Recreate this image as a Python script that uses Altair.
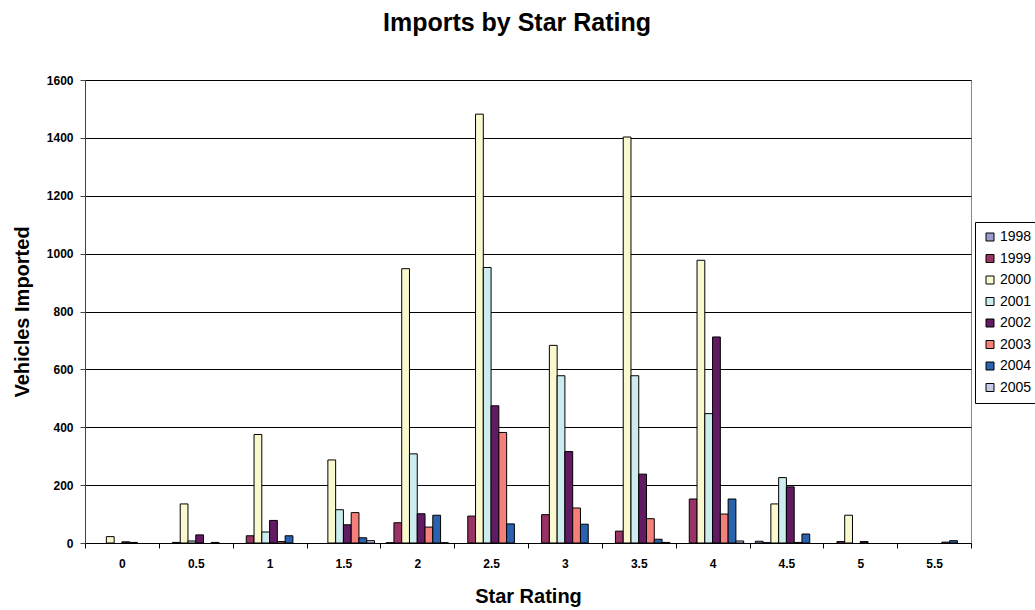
import altair as alt
import pandas as pd

ratings = ["0", "0.5", "1", "1.5", "2", "2.5", "3", "3.5", "4", "4.5", "5", "5.5"]
years = ["1998", "1999", "2000", "2001", "2002", "2003", "2004", "2005"]

v1998 = [0, 0, 0, 0, 1, 0, 0, 0, 0, 6, 0, 0]
v1999 = [0, 2, 25, 0, 70, 93, 98, 41, 152, 1, 5, 0]
v2000 = [22, 135, 375, 287, 948, 1482, 683, 1403, 977, 135, 96, 0]
v2001 = [0, 7, 38, 115, 308, 952, 578, 578, 447, 226, 0, 0]
v2002 = [4, 28, 78, 63, 101, 474, 316, 238, 712, 194, 5, 0]
v2003 = [2, 0, 5, 105, 55, 382, 121, 84, 100, 2, 0, 3]
v2004 = [0, 2, 25, 18, 96, 66, 65, 13, 152, 31, 0, 8]
v2005 = [0, 0, 0, 8, 1, 0, 0, 2, 7, 0, 0, 0]

colors = ["#9C99CC", "#993366", "#FAF8CE", "#CCECEF", "#621A62", "#F5807B", "#2A62AE", "#C8C8E8"]

series = [v1998, v1999, v2000, v2001, v2002, v2003, v2004, v2005]
rows = []
for y, vals in zip(years, series):
    for r, v in zip(ratings, vals):
        rows.append({"Star Rating": r, "Year": y, "Vehicles": v})
df = pd.DataFrame(rows)

FONT = "Liberation Sans"

bars = alt.Chart(df).mark_bar(stroke="black", strokeWidth=1).encode(
    x=alt.X("Star Rating:N", sort=ratings,
            scale=alt.Scale(paddingInner=0, paddingOuter=0),
            axis=alt.Axis(title="Star Rating", labelAngle=0, tickBand="extent",
                          labelFont=FONT, labelFontWeight="bold", labelFontSize=12,
                          labelColor="black", labelPadding=10,
                          titleFont=FONT, titleFontWeight="bold", titleFontSize=20,
                          titleColor="black", titlePadding=17,
                          domainColor="black", tickColor="black", tickSize=5)),
    xOffset=alt.XOffset("Year:N", sort=years,
                        scale=alt.Scale(paddingInner=0, paddingOuter=0.75)),
    y=alt.Y("Vehicles:Q",
            scale=alt.Scale(domain=[0, 1600], nice=False),
            axis=alt.Axis(title="Vehicles Imported", values=list(range(0, 1601, 200)),
                          format="d",
                          labelFont=FONT, labelFontWeight="bold", labelFontSize=12,
                          labelColor="black", labelPadding=7,
                          titleFont=FONT, titleFontWeight="bold", titleFontSize=20,
                          titleColor="black", titlePadding=14,
                          domainColor="#444444", tickColor="#444444", tickSize=5,
                          grid=True, gridColor="black", gridWidth=1)),
    color=alt.Color("Year:N", sort=years,
                    scale=alt.Scale(domain=years, range=colors),
                    legend=alt.Legend(title=None, orient="none", legendX=890, legendY=142,
                                      symbolType="square", symbolSize=64,
                                      symbolStrokeColor="black", symbolStrokeWidth=1,
                                      labelFont=FONT, labelFontSize=14, labelColor="black",
                                      rowPadding=7.5, padding=8, labelOffset=3,
                                      strokeColor="black", fillColor="white")),
).transform_filter(alt.datum.Vehicles > 0)

chart = bars.properties(
    width=886,
    height=463,
    title=alt.TitleParams("Imports by Star Rating", font=FONT, fontSize=25,
                          fontWeight="bold", color="black", anchor="middle",
                          dx=-11, offset=38),
    autosize=alt.AutoSizeParams(type="none"),
    padding={"left": 85, "top": 80, "right": 64, "bottom": 67},
).configure_view(stroke="#888888", strokeWidth=1)

chart.save("out.html", embed_options={"renderer": "svg", "actions": False})
